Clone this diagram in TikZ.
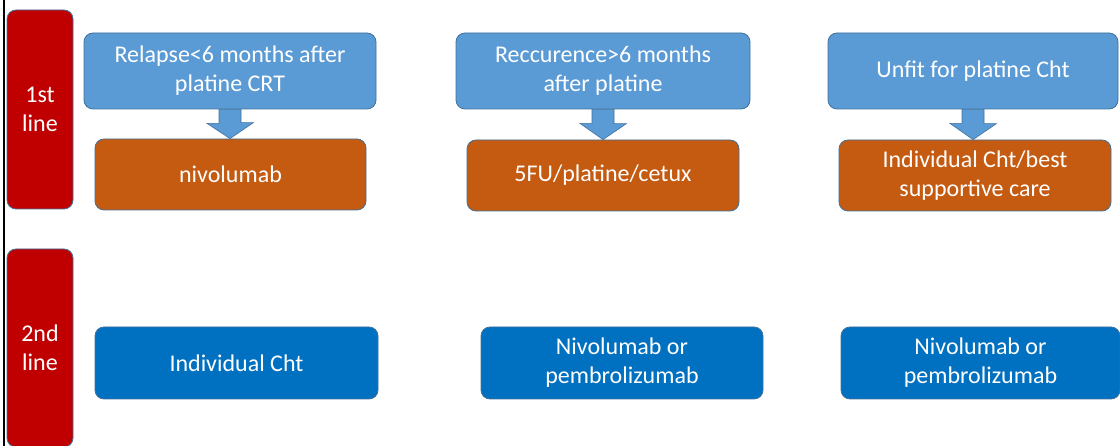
\documentclass[tikz,border=0pt]{standalone}
\usepackage{fontspec}
\setmainfont{Carlito}
\begin{document}
\begin{tikzpicture}[
    x=1pt, y=-1pt,
    every node/.style={font=\fontsize{24}{29}\selectfont, text=white, align=center},
    linebox/.style={rectangle, rounded corners=9pt, draw=edgeblue, line width=0.8pt, fill=lineRed, minimum width=66pt},
    cond/.style={rectangle, rounded corners=9pt, draw=edgeblue, line width=0.8pt, fill=condBlue, minimum height=76pt},
    first/.style={rectangle, rounded corners=9pt, draw=edgeblue, line width=0.8pt, fill=firstOrange, minimum height=71pt},
    second/.style={rectangle, rounded corners=9pt, draw=edgeblue, line width=0.8pt, fill=secondBlue, minimum height=72pt},
    blockarrow/.style={fill=condBlue, draw=edgeblue, line width=0.6pt}
]
\definecolor{lineRed}{HTML}{C00000}
\definecolor{condBlue}{HTML}{5B9BD5}
\definecolor{firstOrange}{HTML}{C55A11}
\definecolor{secondBlue}{HTML}{0070C0}
\definecolor{edgeblue}{HTML}{41719C}
\useasboundingbox (0,0) rectangle (1120,446);

% left rule
\draw[line width=2pt] (4,0) -- (4,446);

% line labels
\node[linebox, minimum height=199pt] (l1) at (40,109.5) {1st\\line};
\node[linebox, minimum height=198pt] (l2) at (40,348) {2nd\\line};

% conditions
\node[cond, minimum width=292pt] (c1) at (230,71) {Relapse<6 months after\\platine CRT};
\node[cond, minimum width=294pt] (c2) at (603,71) {Reccurence>6 months\\after platine};
\node[cond, minimum width=290pt] (c3) at (973,71) {Unfit for platine Cht};

% first line treatments
\node[first, minimum width=271pt] (f1) at (230.5,174.5) {nivolumab};
\node[first, minimum width=272pt] (f2) at (603,175.5) {5FU/platine/cetux};
\node[first, minimum width=272pt] (f3) at (975,175.5) {Individual Cht/best\\supportive care};

% second line treatments
\node[second, minimum width=283pt] (s1) at (236.5,363) {Individual Cht};
\node[second, minimum width=282pt] (s2) at (622,363) {Nivolumab or\\pembrolizumab};
\node[second, minimum width=279pt] (s3) at (980.5,363) {Nivolumab or\\pembrolizumab};

% block arrows
\foreach \c/\f in {c1/f1, c2/f2, c3/f3}{
  \draw[blockarrow] ([xshift=-11pt]\c.south) -- ++(0,14) -- ++(-12,0)
    -- (\c.south |- \f.north) -- ++(23.5,-16) -- ++(-12.5,0) -- ([xshift=11pt]\c.south) -- cycle;
}
\end{tikzpicture}
\end{document}
